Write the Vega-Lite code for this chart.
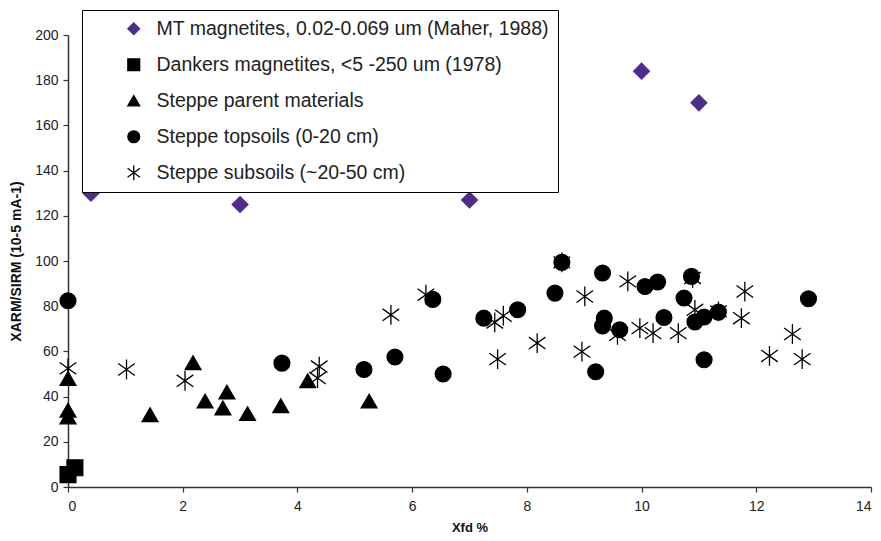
{
  "$schema": "https://vega.github.io/schema/vega-lite/v6.json",
  "width": 803,
  "height": 452,
  "autosize": {"type": "none"},
  "padding": {"left": 68, "top": 35, "right": 10, "bottom": 54},
  "background": "white",
  "config": {
    "font": "Liberation Sans",
    "view": {"stroke": null},
    "axis": {"domainColor": "#333", "tickColor": "#333", "labelColor": "#222", "titleColor": "#111", "labelFontSize": 14, "titleFontSize": 13, "titleFontWeight": "bold", "grid": false, "tickSize": 5, "domainWidth": 1.5, "tickWidth": 1.2}
  },
  "data": {"values": [
    {"series": "MT magnetites, 0.02-0.069 um (Maher, 1988)", "x": 0.4, "y": 130},
    {"series": "MT magnetites, 0.02-0.069 um (Maher, 1988)", "x": 3, "y": 125},
    {"series": "MT magnetites, 0.02-0.069 um (Maher, 1988)", "x": 7, "y": 127},
    {"series": "MT magnetites, 0.02-0.069 um (Maher, 1988)", "x": 10, "y": 184},
    {"series": "MT magnetites, 0.02-0.069 um (Maher, 1988)", "x": 11, "y": 170},
    {"series": "Dankers magnetites, <5 -250 um (1978)", "x": 0, "y": 5.5},
    {"series": "Dankers magnetites, <5 -250 um (1978)", "x": 0.12, "y": 8.5},
    {"series": "Steppe parent materials", "x": 0, "y": 48},
    {"series": "Steppe parent materials", "x": 0, "y": 31},
    {"series": "Steppe parent materials", "x": 0, "y": 34},
    {"series": "Steppe parent materials", "x": 1.43, "y": 32},
    {"series": "Steppe parent materials", "x": 2.18, "y": 55},
    {"series": "Steppe parent materials", "x": 2.39, "y": 38},
    {"series": "Steppe parent materials", "x": 2.77, "y": 42},
    {"series": "Steppe parent materials", "x": 2.7, "y": 35},
    {"series": "Steppe parent materials", "x": 3.13, "y": 32.5},
    {"series": "Steppe parent materials", "x": 3.71, "y": 36},
    {"series": "Steppe parent materials", "x": 4.18, "y": 47},
    {"series": "Steppe parent materials", "x": 5.25, "y": 38},
    {"series": "Steppe topsoils (0-20 cm)", "x": 0, "y": 82.4},
    {"series": "Steppe topsoils (0-20 cm)", "x": 3.73, "y": 54.8},
    {"series": "Steppe topsoils (0-20 cm)", "x": 5.16, "y": 52},
    {"series": "Steppe topsoils (0-20 cm)", "x": 5.7, "y": 57.5},
    {"series": "Steppe topsoils (0-20 cm)", "x": 6.36, "y": 83},
    {"series": "Steppe topsoils (0-20 cm)", "x": 6.54, "y": 50},
    {"series": "Steppe topsoils (0-20 cm)", "x": 7.25, "y": 74.7},
    {"series": "Steppe topsoils (0-20 cm)", "x": 7.84, "y": 78.4},
    {"series": "Steppe topsoils (0-20 cm)", "x": 8.49, "y": 85.8},
    {"series": "Steppe topsoils (0-20 cm)", "x": 8.61, "y": 99.4},
    {"series": "Steppe topsoils (0-20 cm)", "x": 9.32, "y": 94.7},
    {"series": "Steppe topsoils (0-20 cm)", "x": 9.2, "y": 51},
    {"series": "Steppe topsoils (0-20 cm)", "x": 9.35, "y": 74.7},
    {"series": "Steppe topsoils (0-20 cm)", "x": 9.32, "y": 71.3},
    {"series": "Steppe topsoils (0-20 cm)", "x": 9.62, "y": 69.6},
    {"series": "Steppe topsoils (0-20 cm)", "x": 10.06, "y": 88.7},
    {"series": "Steppe topsoils (0-20 cm)", "x": 10.28, "y": 90.7},
    {"series": "Steppe topsoils (0-20 cm)", "x": 10.39, "y": 75},
    {"series": "Steppe topsoils (0-20 cm)", "x": 10.74, "y": 83.6},
    {"series": "Steppe topsoils (0-20 cm)", "x": 10.87, "y": 93.2},
    {"series": "Steppe topsoils (0-20 cm)", "x": 10.93, "y": 73},
    {"series": "Steppe topsoils (0-20 cm)", "x": 11.09, "y": 75.2},
    {"series": "Steppe topsoils (0-20 cm)", "x": 11.09, "y": 56.3},
    {"series": "Steppe topsoils (0-20 cm)", "x": 11.34, "y": 77.4},
    {"series": "Steppe topsoils (0-20 cm)", "x": 12.91, "y": 83.3},
    {"series": "Steppe subsoils (~20-50 cm)", "x": 0, "y": 52.5},
    {"series": "Steppe subsoils (~20-50 cm)", "x": 1.02, "y": 52},
    {"series": "Steppe subsoils (~20-50 cm)", "x": 2.04, "y": 47},
    {"series": "Steppe subsoils (~20-50 cm)", "x": 4.38, "y": 53.3},
    {"series": "Steppe subsoils (~20-50 cm)", "x": 4.35, "y": 48.2},
    {"series": "Steppe subsoils (~20-50 cm)", "x": 5.63, "y": 76.2},
    {"series": "Steppe subsoils (~20-50 cm)", "x": 6.24, "y": 85.1},
    {"series": "Steppe subsoils (~20-50 cm)", "x": 7.44, "y": 72.8},
    {"series": "Steppe subsoils (~20-50 cm)", "x": 7.59, "y": 75.8},
    {"series": "Steppe subsoils (~20-50 cm)", "x": 7.49, "y": 56.6},
    {"series": "Steppe subsoils (~20-50 cm)", "x": 8.18, "y": 63.7},
    {"series": "Steppe subsoils (~20-50 cm)", "x": 8.61, "y": 99.4},
    {"series": "Steppe subsoils (~20-50 cm)", "x": 9.01, "y": 84.3},
    {"series": "Steppe subsoils (~20-50 cm)", "x": 8.96, "y": 59.9},
    {"series": "Steppe subsoils (~20-50 cm)", "x": 9.76, "y": 91},
    {"series": "Steppe subsoils (~20-50 cm)", "x": 9.58, "y": 67.3},
    {"series": "Steppe subsoils (~20-50 cm)", "x": 9.97, "y": 70.3},
    {"series": "Steppe subsoils (~20-50 cm)", "x": 10.2, "y": 68.1},
    {"series": "Steppe subsoils (~20-50 cm)", "x": 10.64, "y": 68.1},
    {"series": "Steppe subsoils (~20-50 cm)", "x": 10.89, "y": 92.5},
    {"series": "Steppe subsoils (~20-50 cm)", "x": 10.93, "y": 78.4},
    {"series": "Steppe subsoils (~20-50 cm)", "x": 11.34, "y": 77.7},
    {"series": "Steppe subsoils (~20-50 cm)", "x": 11.8, "y": 86.5},
    {"series": "Steppe subsoils (~20-50 cm)", "x": 11.74, "y": 74.7},
    {"series": "Steppe subsoils (~20-50 cm)", "x": 12.23, "y": 58},
    {"series": "Steppe subsoils (~20-50 cm)", "x": 12.63, "y": 67.7},
    {"series": "Steppe subsoils (~20-50 cm)", "x": 12.8, "y": 56.6}
  ]},
  "mark": {"type": "point", "filled": true, "size": 250, "clip": false, "strokeWidth": 1.3, "opacity": 1},
  "encoding": {
    "x": {"field": "x", "type": "quantitative", "scale": {"domain": [0, 14], "nice": false, "zero": false},
      "axis": {"title": "Xfd %", "values": [0, 2, 4, 6, 8, 10, 12, 14], "labelPadding": 7, "titlePadding": 8}},
    "y": {"field": "y", "type": "quantitative", "scale": {"domain": [0, 200], "nice": false},
      "axis": {"title": "XARM/SIRM (10-5 mA-1)", "titleFontSize": 14, "values": [0, 20, 40, 60, 80, 100, 120, 140, 160, 180, 200], "labelPadding": 5, "titlePadding": 11}},
    "shape": {"field": "series", "type": "nominal",
      "scale": {"domain": ["MT magnetites, 0.02-0.069 um (Maher, 1988)", "Dankers magnetites, <5 -250 um (1978)", "Steppe parent materials", "Steppe topsoils (0-20 cm)", "Steppe subsoils (~20-50 cm)"],
        "range": ["diamond", "square", "triangle-up", "circle", "M0,-1.25L0,1.25M-1.05,-0.75L1.05,0.75M-1.05,0.75L1.05,-0.75"]},
      "legend": {"title": null, "orient": "none", "legendX": 14, "legendY": -25, "strokeColor": "black", "fillColor": "white", "padding": 9, "labelFontSize": 19.5, "labelColor": "#222", "symbolSize": 140, "symbolOffset": 33, "labelOffset": 13, "rowPadding": 15, "symbolStrokeWidth": 1.3, "labelLimit": 600}},
    "fill": {"field": "series", "type": "nominal",
      "scale": {"domain": ["MT magnetites, 0.02-0.069 um (Maher, 1988)", "Dankers magnetites, <5 -250 um (1978)", "Steppe parent materials", "Steppe topsoils (0-20 cm)", "Steppe subsoils (~20-50 cm)"],
        "range": ["#4f2d8f", "#000000", "#000000", "#000000", "transparent"]},
      "legend": {"title": null, "orient": "none", "legendX": 14, "legendY": -25, "strokeColor": "black", "fillColor": "white", "padding": 9, "labelFontSize": 19.5, "labelColor": "#222", "symbolSize": 140, "symbolOffset": 33, "labelOffset": 13, "rowPadding": 15, "symbolStrokeWidth": 1.3, "labelLimit": 600}},
    "stroke": {"field": "series", "type": "nominal",
      "scale": {"domain": ["MT magnetites, 0.02-0.069 um (Maher, 1988)", "Dankers magnetites, <5 -250 um (1978)", "Steppe parent materials", "Steppe topsoils (0-20 cm)", "Steppe subsoils (~20-50 cm)"],
        "range": ["#4f2d8f", "#000000", "#000000", "#000000", "#000000"]},
      "legend": {"title": null, "orient": "none", "legendX": 14, "legendY": -25, "strokeColor": "black", "fillColor": "white", "padding": 9, "labelFontSize": 19.5, "labelColor": "#222", "symbolSize": 140, "symbolOffset": 33, "labelOffset": 13, "rowPadding": 15, "symbolStrokeWidth": 1.3, "labelLimit": 600}}
  }
}
